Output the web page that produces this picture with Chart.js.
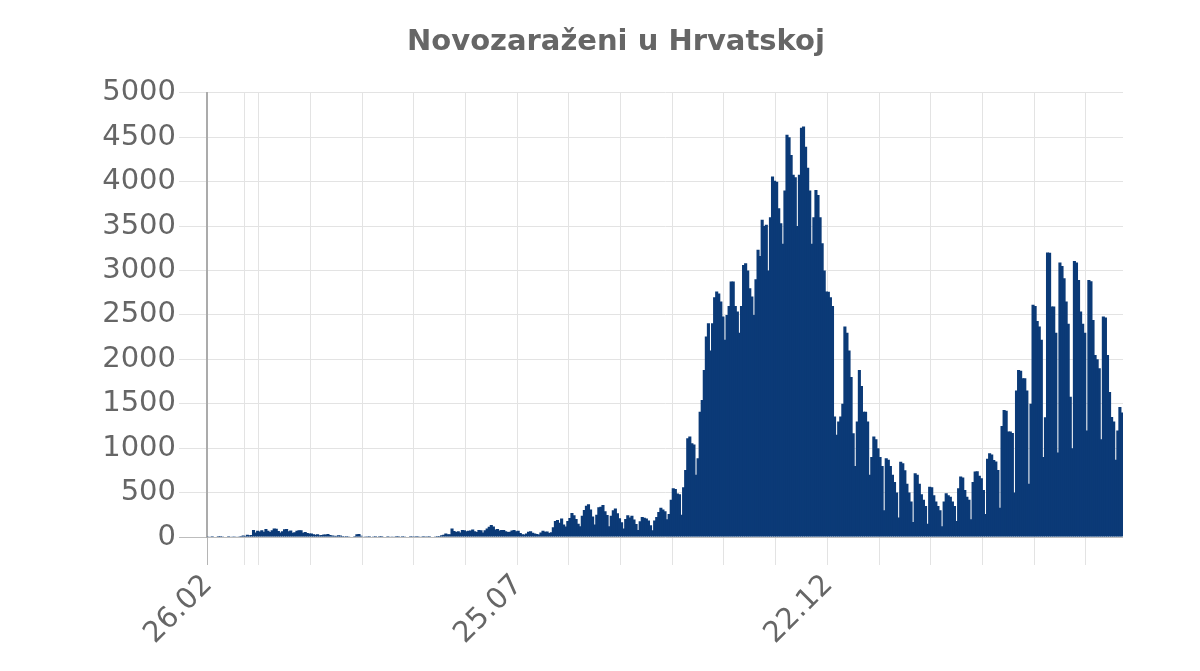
<!DOCTYPE html>
<html>
<head>
<meta charset="utf-8">
<title>Novozaraženi u Hrvatskoj</title>
<script src="https://cdn.jsdelivr.net/npm/chart.js@4.4.0/dist/chart.umd.min.js"></script>
<style>
    html, body { margin: 0; padding: 0; background: #fff; }
</style>
</head>
<body>
<canvas id="novozarazeniChart" width="1200" height="671"></canvas>
<script>
// Dnevni broj novozaraženih, od 26.02.2020.
const prviVal = [
    2, 0, 1, 0, 0, 1, 1, 2, 0, 0, 1, 0, 2, 4,
    6, 8, 12, 17, 11, 24, 20, 23,
    78, 52, 71, 62, 76, 58, 91, 71, 56, 77, 96, 94, 67, 52, 66, 87, 89, 66, 72, 47, 54, 69, 77, 75, 48, 56, 45, 39,
    38, 32, 25, 30, 20, 23, 27, 29, 33, 22, 17, 14, 11, 19, 16, 12, 8, 10, 9, 7, 6,
    12, 30, 35, 15, 6,
    3, 2, 1, 0, 2, 1, 0, 1, 1, 0, 0, 1, 0, 2, 0, 1, 1, 0, 1, 2, 0, 0, 1, 3, 2, 1, 4, 0, 1, 2, 3, 1, 5, 6, 9, 12
];
const ljeto = [
    10, 19, 25, 40, 30, 32, 95, 67, 55, 65, 52, 80, 75, 64, 70, 72, 85, 64, 56, 80,
    76, 52, 75, 96, 115, 134, 118, 85, 90, 72, 80, 78, 66, 55, 60, 72, 80, 64, 70,
    45, 30, 27, 38, 60, 64, 48, 40, 35, 29, 50, 70, 58, 62, 45,
    54, 110, 180, 190, 160, 208, 142,
    119, 180, 214, 270, 245, 204, 150,
    120, 240, 305, 352, 369, 310, 230,
    140, 250, 336, 341, 360, 290, 247,
    120, 240, 300, 320, 266, 211, 167,
    95, 204, 246, 220, 240, 196, 146,
    80, 176, 225, 218, 208, 185, 131,
    75, 185, 226
];
const jesen = [
    280, 330, 310, 290, 200, 260, 420,
    548, 540, 490, 480, 250, 560, 754,
    1111, 1131, 1055, 1040, 700, 886, 1411,
    1543, 1880, 2256, 2406, 2100, 2406, 2700,
    2763, 2740, 2650, 2481, 2219, 2500, 2600,
    2875, 2875, 2600, 2538, 2300, 2600, 3063,
    3082, 3000, 2800, 2706, 2500, 2900, 3232,
    3164, 3570, 3500, 3514, 3000, 3600, 4058,
    4009, 4000, 3700, 3532, 3300, 3900, 4527,
    4500, 4300, 4077, 4050, 3500, 4077, 4606,
    4620, 4392, 4155, 3900, 3300, 3600, 3907,
    3850, 3600, 3307, 3000, 2763, 2760, 2700,
    2600, 1355, 1150, 1300, 1355, 1500, 2369,
    2300, 2100, 1800, 1167, 800, 1300, 1880,
    1700, 1411, 1411, 1300, 700, 900, 1130,
    1100, 1000, 900, 800, 300, 886, 870,
    800
];
const proljece2021 = [
    700, 620, 500, 220, 848, 830, 750,
    600, 500, 400, 170, 717, 700, 600,
    480, 420, 350, 150, 567, 560, 470,
    400, 350, 300, 120, 400, 492, 470,
    454, 400, 350, 180, 550, 680, 670,
    529, 454, 420, 200, 620, 736, 740,
    690, 660, 529, 260, 880, 943, 930,
    868, 850, 755, 330, 1250, 1430, 1420,
    1187, 1187, 1170, 500, 1650, 1880, 1870,
    1786, 1786, 1650, 600, 1500, 2613, 2600,
    2430, 2370, 2219, 900, 1349, 3202, 3200,
    2594, 2594, 2300, 950, 3089, 3050, 2913,
    2651, 2400, 1580, 1000, 3108, 3090, 2894,
    2538, 2400, 2300, 1200, 2894, 2880, 2444,
    2050, 2000, 1900, 1100, 2481, 2470, 2050,
    1633, 1351, 1300, 870, 1200, 1464, 1400
];
const prikazaniDatumi = ['26.02', '25.07', '22.12'];

const noviSlucajevi = [].concat(prviVal, ljeto, jesen, proljece2021);

// Oznake dana (dd.mm) za svaki stupac
const pocetak = Date.UTC(2020, 1, 26);
const datumi = noviSlucajevi.map(function(_, i) {
    const d = new Date(pocetak + i * 86400000);
    return String(d.getUTCDate()).padStart(2, '0') + '.' + String(d.getUTCMonth() + 1).padStart(2, '0');
});

const tekst = '#666';
const mreza = '#e3e3e3';
const font = { family: 'DejaVu Sans', size: 29 };

// y os ne smije rezati oznake koje izlaze lijevo od svoje kutije
const oznakeY = {
    id: 'oznakeY',
    afterLayout: function(chart) {
        chart.scales.y.left = 0;
    }
};

const ctx = document.getElementById('novozarazeniChart').getContext('2d');
new Chart(ctx, {
    type: 'bar',
    data: {
        labels: datumi,
        datasets: [{
            label: 'Novozaraženi',
            data: noviSlucajevi,
            backgroundColor: '#0b3a77',
            borderWidth: 0,
            barPercentage: 1.5,
            categoryPercentage: 1
        }]
    },
    options: {
        responsive: false,
        animation: false,
        layout: {
            padding: { left: 109, right: 77, top: 0, bottom: 0 }
        },
        plugins: {
            legend: { display: false },
            tooltip: { enabled: false },
            title: {
                display: true,
                text: 'Novozaraženi u Hrvatskoj',
                color: tekst,
                font: { family: 'DejaVu Sans', size: 29, weight: 'bold' },
                padding: { top: 25, bottom: 33 }
            }
        },
        scales: {
            x: {
                ticks: {
                    autoSkip: false,
                    minRotation: 45,
                    maxRotation: 45,
                    padding: 3,
                    color: tekst,
                    font: font,
                    callback: function(value, index) {
                        const l = this.getLabelForValue(value);
                        // samo prvo pojavljivanje odabranih datuma
                        return (prikazaniDatumi.includes(l) && datumi.indexOf(l) === index) ? l : '';
                    }
                },
                grid: {
                    tickLength: 28,
                    color: function(c) {
                        if (c.index === 0) return '#b5b5b5';
                        if (c.index === 18 || (c.index > 0 && c.index % 25 === 0)) return mreza;
                        return 'rgba(0,0,0,0)';
                    }
                },
                border: { display: false },
                afterFit: function(scale) { scale.height = 134; }
            },
            y: {
                min: 0,
                max: 5000,
                ticks: {
                    stepSize: 500,
                    padding: 3,
                    color: tekst,
                    font: font,
                    callback: function(value) { return String(value); }
                },
                grid: {
                    tickLength: 28,
                    color: function(c) {
                        return (c.tick && c.tick.value === 0) ? '#bdbdbd' : mreza;
                    }
                },
                border: { color: '#ababab', width: 2 },
                afterFit: function(scale) { scale.width = 98; }
            }
        }
    },
    plugins: [oznakeY]
});
</script>
</body>
</html>
